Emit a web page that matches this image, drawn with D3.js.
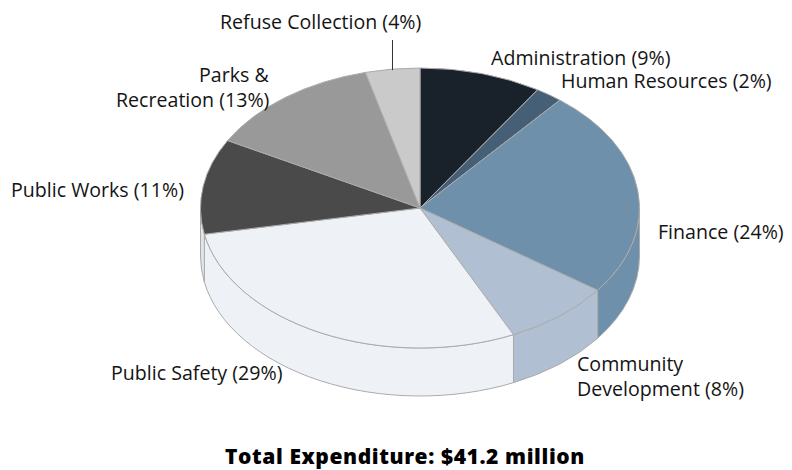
<!DOCTYPE html>
<html>
<head>
<meta charset="utf-8">
<script src="https://cdn.jsdelivr.net/npm/d3@7"></script>
<style>
  html, body { margin: 0; padding: 0; background: #fff; }
  svg { display: block; }
  text { font-family: "Open Sans", sans-serif; fill: #141414; }
</style>
</head>
<body>
<svg id="chart" width="792" height="470"></svg>
<script>
// Expenditure by department, percent of the total
const departments = ["Administration", "Human Resources", "Finance", "Community Development",
                     "Public Safety", "Public Works", "Parks & Recreation", "Refuse Collection"];
const shares = [9, 2, 24, 8, 29, 11, 13, 4];
const sliceColors = ["#19212a", "#456076", "#6f90ab", "#b0c0d2", "#eef1f5", "#4a4a4a", "#999999", "#cacaca"];
const wallColors = ["#19212a", "#456076", "#6f90ab", "#b0c0d2", "#eef1f5", "#e2e5e8", "#999999", "#cacaca"];
const totalLabel = "Total Expenditure: $41.2 million";

// Where each label block sits, one entry per department
const labelPlacement = [
  { lines: [{ x: 491, y: 65, text: "Administration (9%)" }] },
  { lines: [{ x: 561, y: 88, text: "Human Resources (2%)" }] },
  { lines: [{ x: 658, y: 239, text: "Finance (24%)" }] },
  { lines: [{ x: 577, y: 371, text: "Community" }, { x: 577, y: 396, text: "Development (8%)" }] },
  { lines: [{ x: 111, y: 380, text: "Public Safety (29%)" }] },
  { lines: [{ x: 11, y: 197, text: "Public Works (11%)" }] },
  { lines: [{ x: 199, y: 82, text: "Parks &" }, { x: 116, y: 107, text: "Recreation (13%)" }] },
  { lines: [{ x: 220, y: 29, text: "Refuse Collection (4%)" }] }
];

const cx = 420, cy = 208, rx = 219.5, ry = 140, depth = 48;
const edge = "#ababab";

const svg = d3.select("#chart");
const px = d3.scaleLinear().domain([-1, 1]).range([cx - rx, cx + rx]);
const py = d3.scaleLinear().domain([-1, 1]).range([cy - ry, cy + ry]);

const slices = d3.pie().sort(null).value(d => d)(shares)
  .map((s, i) => ({ ...s, index: i }));

// Points on the rim, angle measured clockwise from twelve o'clock
const rimX = a => px(Math.sin(a));
const rimY = a => py(-Math.cos(a));

// Outer wall: only the part of a slice between 90 and 270 degrees faces the viewer
const wallPath = s => {
  const a0 = Math.max(s.startAngle, Math.PI / 2);
  const a1 = Math.min(s.endAngle, 3 * Math.PI / 2);
  if (a1 <= a0) return null;
  return `M${rimX(a0)},${rimY(a0)}` +
    `A${rx},${ry} 0 0 1 ${rimX(a1)},${rimY(a1)}` +
    `L${rimX(a1)},${rimY(a1) + depth}` +
    `A${rx},${ry} 0 0 0 ${rimX(a0)},${rimY(a0) + depth}Z`;
};

const topPath = s => {
  const large = s.endAngle - s.startAngle > Math.PI ? 1 : 0;
  return `M${cx},${cy}L${rimX(s.startAngle)},${rimY(s.startAngle)}` +
    `A${rx},${ry} 0 ${large} 1 ${rimX(s.endAngle)},${rimY(s.endAngle)}Z`;
};

svg.append("g").selectAll("path")
  .data(slices.filter(s => wallPath(s)))
  .join("path")
  .attr("d", wallPath)
  .attr("fill", s => wallColors[s.index])
  .attr("stroke", edge)
  .attr("stroke-width", 1);

svg.append("g").selectAll("path")
  .data(slices)
  .join("path")
  .attr("d", topPath)
  .attr("fill", s => sliceColors[s.index])
  .attr("stroke", edge)
  .attr("stroke-width", 1)
  .attr("stroke-linejoin", "round");

// Leader from the refuse slice up to its label
const refuse = slices[7];
const refuseMid = (refuse.startAngle + refuse.endAngle) / 2;
svg.append("line")
  .attr("x1", rimX(refuseMid)).attr("x2", rimX(refuseMid))
  .attr("y1", 40).attr("y2", rimY(refuseMid) + 1)
  .attr("stroke", "#333").attr("stroke-width", 1);

// Department labels
const labels = svg.append("g").attr("font-size", 19.6);
labelPlacement.forEach(p => {
  const t = labels.append("text");
  p.lines.forEach(line => {
    t.append("tspan").attr("x", line.x).attr("y", line.y).text(line.text);
  });
});

svg.append("text")
  .attr("x", 405).attr("y", 464)
  .attr("text-anchor", "middle")
  .attr("font-size", 21).attr("font-weight", 800)
  .attr("letter-spacing", 0.6)
  .style("fill", "#000")
  .text(totalLabel);
</script>
</body>
</html>
